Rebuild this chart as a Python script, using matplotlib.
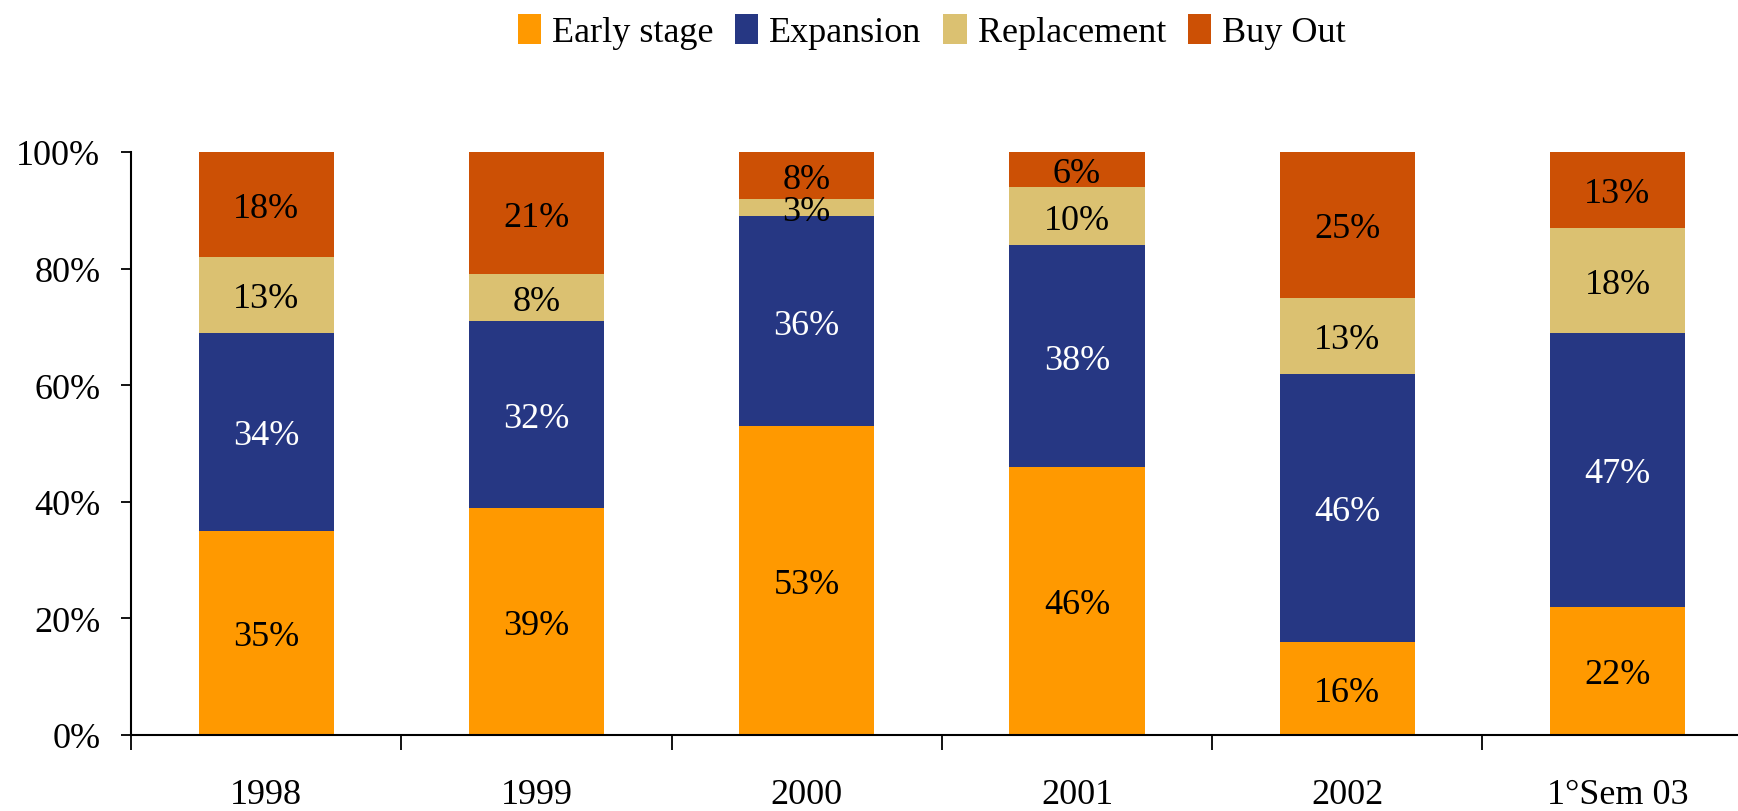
import matplotlib.pyplot as plt
import numpy as np

plt.rcParams['font.family'] = ['Liberation Serif', 'DejaVu Serif']

# Data
periods = ["1998", "1999", "2000", "2001", "2002", "1°Sem 03"]
early_stage = [35, 39, 53, 46, 16, 22]
expansion = [34, 32, 36, 38, 46, 47]
replacement = [13, 8, 3, 10, 13, 18]
buy_out = [18, 21, 8, 6, 25, 13]

series = [
    ("Early stage", early_stage, "#FF9900", "black"),
    ("Expansion", expansion, "#263783", "white"),
    ("Replacement", replacement, "#DBC171", "black"),
    ("Buy Out", buy_out, "#CC5005", "black"),
]

fs = 26

fig = plt.figure(figsize=(17.38, 8.12), dpi=100)
ax = fig.add_axes([0.0754, 0.0936, 0.933, 0.718])

x = np.arange(len(periods)) + 0.5
bottom = np.zeros(len(periods))
for name, vals, color, txt_color in series:
    vals = np.array(vals, dtype=float)
    ax.bar(x, vals, 0.5, bottom=bottom, color=color, label=name)
    for xi, b, v in zip(x, bottom, vals):
        ax.text(xi, b + v / 2, "{:.0f}%".format(v), ha="center",
                va="center_baseline", fontsize=fs, color=txt_color)
    bottom += vals

ax.set_xlim(0, len(periods))
ax.set_ylim(0, 100)
ax.set_yticks(range(0, 101, 20))
ax.set_yticklabels(["{}%".format(v) for v in range(0, 101, 20)], fontsize=fs)
for lbl in ax.get_yticklabels():
    lbl.set_va("center_baseline")

# category boundaries as major ticks, labels on minor ticks
ax.set_xticks(np.arange(len(periods) + 1))
ax.set_xticklabels([])
ax.set_xticks(x, minor=True)
ax.set_xticklabels(periods, minor=True, fontsize=fs)
ax.tick_params(axis="x", which="major", length=11, width=1.3, direction="out")
ax.tick_params(axis="x", which="minor", length=0, pad=31)
ax.tick_params(axis="y", length=7, width=1.3, pad=15)

for side in ["top", "right"]:
    ax.spines[side].set_visible(False)
for side in ["left", "bottom"]:
    ax.spines[side].set_linewidth(1.5)

fig.legend(loc="center", bbox_to_anchor=(0.536, 0.96), ncol=4, frameon=False,
           fontsize=fs, handlelength=0.65, handleheight=0.9, handletextpad=0.3,
           columnspacing=0.6)

fig.savefig("out.png", dpi=100)
